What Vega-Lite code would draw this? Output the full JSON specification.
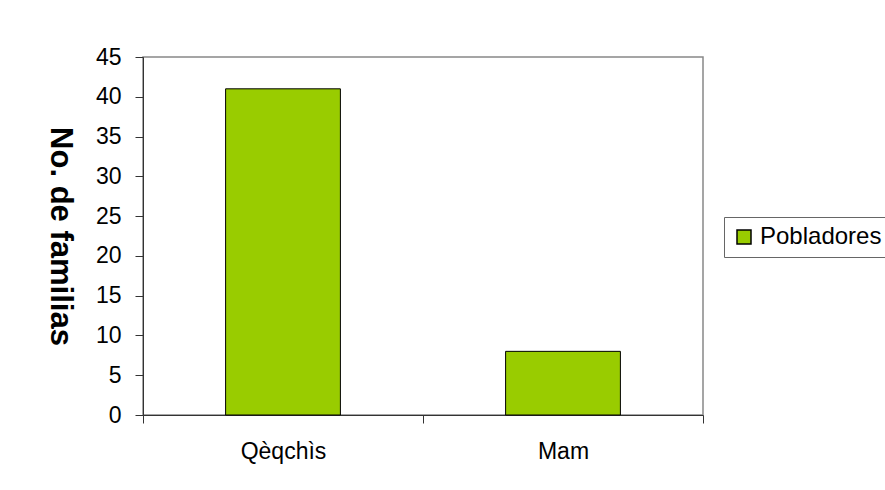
{
  "$schema": "https://vega.github.io/schema/vega-lite/v6.json",
  "autosize": "none",
  "width": 560,
  "height": 358,
  "padding": {"left": 143, "top": 57, "right": 182, "bottom": 75},
  "background": "white",
  "data": {"values": [
    {"grupo": "Qèqchìs", "familias": 41, "serie": "Pobladores"},
    {"grupo": "Mam", "familias": 8, "serie": "Pobladores"}
  ]},
  "mark": {"type": "bar", "stroke": "black", "strokeWidth": 1, "width": {"band": 0.41}},
  "encoding": {
    "x": {
      "field": "grupo", "type": "nominal", "sort": null,
      "scale": {"paddingInner": 0, "paddingOuter": 0},
      "axis": {"title": null, "labelAngle": 0, "tickBand": "extent", "tickSize": 8, "labelPadding": 17,
               "labelFontSize": 23, "labelFont": "Liberation Sans", "labelColor": "black",
               "domainColor": "#333", "tickColor": "#333"}
    },
    "y": {
      "field": "familias", "type": "quantitative",
      "scale": {"domain": [0, 45], "nice": false},
      "axis": {"title": "No. de familias", "values": [0,5,10,15,20,25,30,35,40,45], "grid": false,
               "tickSize": 8, "labelPadding": 14, "labelFontSize": 23, "labelFont": "Liberation Sans",
               "labelColor": "black", "domainColor": "#333", "tickColor": "#333",
               "titleFont": "Liberation Sans", "titleFontSize": 31, "titleFontWeight": "bold",
               "titleColor": "black", "titleAngle": 90, "titlePadding": 52}
    },
    "color": {
      "field": "serie", "type": "nominal",
      "scale": {"range": ["#99CC00"]},
      "legend": {"title": null, "orient": "none", "legendX": 581, "legendY": 160,
                 "symbolType": "square", "symbolSize": 196, "symbolStrokeColor": "black",
                 "symbolStrokeWidth": 1.5, "labelFontSize": 24, "labelFont": "Liberation Sans",
                 "labelColor": "black", "strokeColor": "#666", "padding": 8, "fillColor": "white"}
    }
  },
  "config": {"view": {"stroke": "#888", "strokeWidth": 1.5}}
}
